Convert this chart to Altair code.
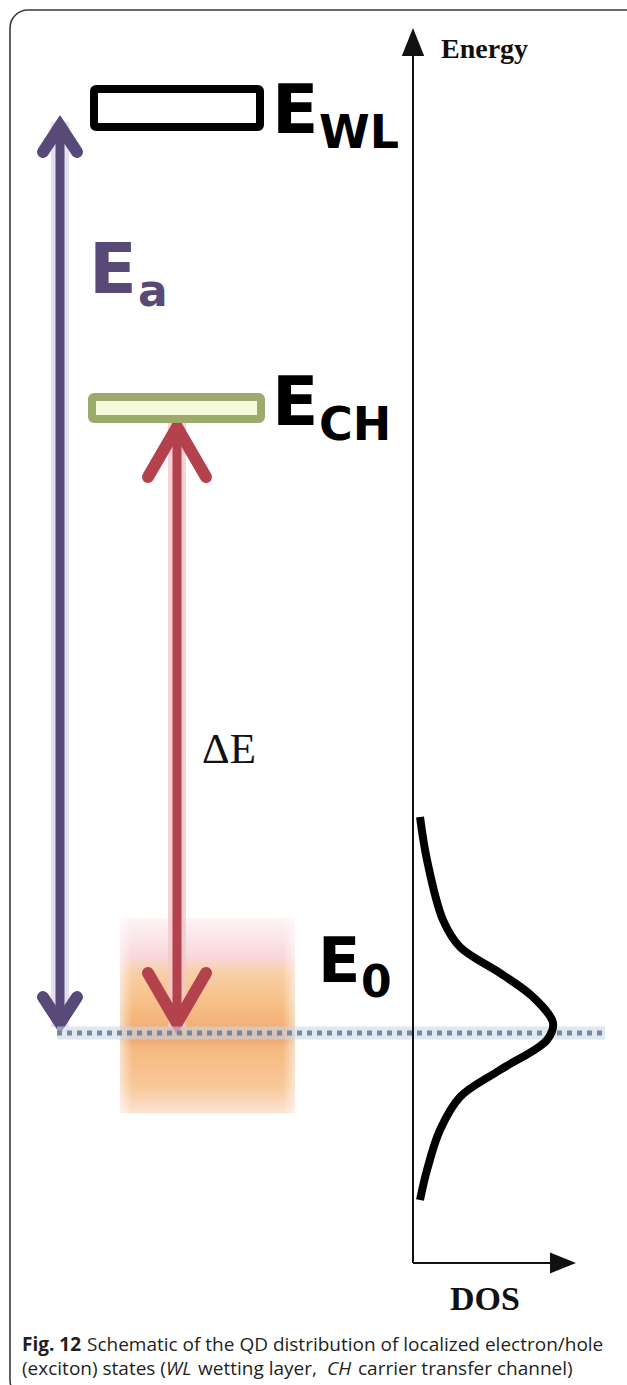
import altair as alt
import pandas as pd

W, H = 627, 1385

# ---- energy-level boxes (left, right, top, bottom) ----
level_names = ["WL", "CH"]
level_x = [94, 92]
level_x2 = [260, 261]
level_y = [89, 397]
level_y2 = [127, 419]
level_stroke = ["#000000", "#9caa6c"]
level_fill = ["#ffffff", "#f6f9dc"]

# ---- vertical arrows: shaft x, top tip, bottom tip ----
arrow_names = ["Ea", "dE"]
arrow_x = [60, 177]
arrow_top = [122, 423]
arrow_bottom = [1027, 1027]
arrow_color = ["#584a78", "#b3424c"]
arrow_glow = ["#ddd6ea", "#f6c6c9"]
arrow_head_half = [17, 29]
arrow_head_len = [30, 54]

# ---- QD ensemble (gradient block) ----
qd_x, qd_x2, qd_y, qd_y2 = 120, 295, 918, 1113

# ---- ground-state level (dotted) ----
e0_y = 1033
e0_x0, e0_x1 = 57, 605

# ---- DOS axes ----
axis_x = 413
axis_top = 28
axis_corner = 1263
axis_right = 576

# ---- DOS profile (x = DOS, y = energy position) ----
dos_x = [420, 427, 443, 460, 500, 533, 553, 547, 500, 460, 440, 427, 420]
dos_y = [817, 860, 920, 947, 973, 997, 1023, 1040, 1070, 1097, 1130, 1170, 1200]

# ---- caption ----
cap_bold = ["Fig. 12"]
cap_bold_x = [22]
cap_bold_y = [1351]
cap_plain = ["Schematic of the QD distribution of localized electron/hole",
             "(exciton) states (", "wetting layer,", "carrier transfer channel)"]
cap_plain_x = [87, 22, 198, 358]
cap_plain_y = [1351, 1375, 1375, 1375]
cap_ital = ["WL", "CH"]
cap_ital_x = [166, 327]
cap_ital_y = [1375, 1375]

X = lambda f="x": alt.X(f"{f}:Q", scale=alt.Scale(domain=[0, W], nice=False, zero=False), axis=None)
Y = lambda f="y": alt.Y(f"{f}:Q", scale=alt.Scale(domain=[0, H], nice=False, zero=False, reverse=True), axis=None)

layers = []

# outer rounded frame (runs off the right and bottom edges)
frame = pd.DataFrame({"x": [10], "x2": [720], "y": [10], "y2": [1398]})
layers.append(alt.Chart(frame).mark_rect(fill=None, stroke="#3a3a3a", strokeWidth=1.6,
                                          cornerRadius=18, clip=True).encode(
    x=X(), x2="x2:Q", y=Y(), y2="y2:Q"))

# QD ensemble block: vertical colour gradient, softened at the sides
qd = pd.DataFrame({"x": [qd_x], "x2": [qd_x2], "y": [qd_y], "y2": [qd_y2]})
vgrad = alt.Gradient(gradient="linear", x1=0, x2=0, y1=0, y2=1, stops=[
    alt.GradientStop(color="#fdf4f4", offset=0.0),
    alt.GradientStop(color="#fbe6e8", offset=0.1),
    alt.GradientStop(color="#f9d7da", offset=0.2),
    alt.GradientStop(color="#f8cfa6", offset=0.28),
    alt.GradientStop(color="#f7c28a", offset=0.42),
    alt.GradientStop(color="#f3b076", offset=0.55),
    alt.GradientStop(color="#e6a070", offset=0.6),
    alt.GradientStop(color="#f6b97f", offset=0.67),
    alt.GradientStop(color="#f8c898", offset=0.86),
    alt.GradientStop(color="#fbe3d3", offset=1.0),
])
layers.append(alt.Chart(qd).mark_rect(fill=vgrad).encode(x=X(), x2="x2:Q", y=Y(), y2="y2:Q"))
hgrad = alt.Gradient(gradient="linear", x1=0, x2=1, y1=0, y2=0, stops=[
    alt.GradientStop(color="rgba(255,255,255,0.55)", offset=0.0),
    alt.GradientStop(color="rgba(255,255,255,0)", offset=0.07),
    alt.GradientStop(color="rgba(255,255,255,0)", offset=0.93),
    alt.GradientStop(color="rgba(255,255,255,0.55)", offset=1.0),
])
layers.append(alt.Chart(qd).mark_rect(fill=hgrad).encode(x=X(), x2="x2:Q", y=Y(), y2="y2:Q"))

# arrows: glow, shaft, chevron heads
arr = pd.DataFrame({"name": arrow_names, "x": arrow_x, "y": arrow_top, "y2": arrow_bottom,
                    "c": arrow_color, "g": arrow_glow})
layers.append(alt.Chart(arr).mark_rule(strokeWidth=18, opacity=0.8).encode(
    x=X(), y=Y(), y2="y2:Q", color=alt.Color("g:N", scale=None)))

heads = []
for n, xc, t, b, c, hw, hl in zip(arrow_names, arrow_x, arrow_top, arrow_bottom,
                                   arrow_color, arrow_head_half, arrow_head_len):
    heads += [
        {"id": n + "_top", "k": 0, "x": xc - hw, "y": t + hl, "c": c},
        {"id": n + "_top", "k": 1, "x": xc, "y": t + 4, "c": c},
        {"id": n + "_top", "k": 2, "x": xc + hw, "y": t + hl, "c": c},
        {"id": n + "_bot", "k": 0, "x": xc - hw, "y": b - hl, "c": c},
        {"id": n + "_bot", "k": 1, "x": xc, "y": b - 4, "c": c},
        {"id": n + "_bot", "k": 2, "x": xc + hw, "y": b - hl, "c": c},
    ]
heads = pd.DataFrame(heads)
layers.append(alt.Chart(arr).mark_rule(strokeWidth=9).encode(
    x=X(), y=Y(), y2="y2:Q", color=alt.Color("c:N", scale=None)))
layers.append(alt.Chart(heads).mark_line(strokeWidth=12, strokeCap="round", strokeJoin="miter").encode(
    x=X(), y=Y(), detail="id:N", order="k:Q", color=alt.Color("c:N", scale=None)))

# energy-level boxes
lv = pd.DataFrame({"name": level_names, "x": level_x, "x2": level_x2, "y": level_y, "y2": level_y2,
                   "s": level_stroke, "f": level_fill})
layers.append(alt.Chart(lv).mark_rect(strokeWidth=8, cornerRadius=2).encode(
    x=X(), x2="x2:Q", y=Y(), y2="y2:Q",
    fill=alt.Fill("f:N", scale=None), stroke=alt.Stroke("s:N", scale=None)))

# dotted E0 line with a pale halo
e0 = pd.DataFrame({"x": [e0_x0], "x2": [e0_x1], "y": [e0_y]})
layers.append(alt.Chart(e0).mark_rule(strokeWidth=13, color="#c9d7e6", opacity=0.6).encode(
    x=X(), x2="x2:Q", y=Y()))
layers.append(alt.Chart(e0).mark_rule(strokeWidth=5, color="#75839a", strokeDash=[5, 5], opacity=0.95).encode(
    x=X(), x2="x2:Q", y=Y()))

# DOS axes
ax = pd.DataFrame({"x": [axis_x, axis_x], "x2": [axis_x, axis_right - 20],
                   "y": [axis_top + 20, axis_corner], "y2": [axis_corner, axis_corner]})
layers.append(alt.Chart(ax).mark_rule(strokeWidth=2, color="#111111").encode(
    x=X(), x2="x2:Q", y=Y(), y2="y2:Q"))
tri_up = pd.DataFrame({"x": [axis_x], "y": [axis_top + 14]})
layers.append(alt.Chart(tri_up).mark_point(shape="M0,-1L0.8,1L-0.8,1Z", filled=True, size=28 * 28,
                                           color="#111111", opacity=1).encode(x=X(), y=Y()))
tri_rt = pd.DataFrame({"x": [axis_right - 13], "y": [axis_corner]})
layers.append(alt.Chart(tri_rt).mark_point(shape="M1,0L-1,0.8L-1,-0.8Z", filled=True, size=26 * 26,
                                           color="#111111", opacity=1).encode(x=X(), y=Y()))

# DOS profile
dos = pd.DataFrame({"x": dos_x, "y": dos_y, "k": list(range(len(dos_x)))})
layers.append(alt.Chart(dos).mark_line(strokeWidth=8, color="#000000", interpolate="catmull-rom").encode(
    x=X(), y=Y(), order="k:Q"))

# level labels (big E + subscript)
def label(texts, xs, ys, size, color, font="DejaVu Sans", weight="bold"):
    d = pd.DataFrame({"t": texts, "x": xs, "y": ys})
    return alt.Chart(d).mark_text(align="left", baseline="alphabetic", font=font, fontSize=size,
                                  fontWeight=weight, color=color).encode(x=X(), y=Y(), text="t:N")

layers.append(label(["E", "E"], [272, 272], [133, 425], 68, "#000000"))
layers.append(label(["E"], [318], [982], 62, "#000000"))
layers.append(label(["WL", "CH"], [319, 319], [148, 440], 46, "#000000"))
layers.append(label(["0"], [361], [997], 44, "#000000"))
layers.append(label(["E"], [89], [293], 70, "#574a76"))
layers.append(label(["a"], [138], [306], 44, "#574a76"))
layers.append(label(["ΔE"], [202], [763], 43, "#111111", font="Liberation Serif", weight="normal"))
layers.append(label(["Energy"], [441], [58], 28, "#111111", font="Liberation Serif"))
layers.append(label(["DOS"], [450], [1310], 34, "#111111", font="Liberation Serif"))

# caption
layers.append(label(cap_bold, cap_bold_x, cap_bold_y, 19, "#231f20", font="Open Sans"))
layers.append(label(cap_plain, cap_plain_x, cap_plain_y, 19, "#231f20", font="Open Sans", weight="normal"))
cap_i = pd.DataFrame({"t": cap_ital, "x": cap_ital_x, "y": cap_ital_y})
layers.append(alt.Chart(cap_i).mark_text(align="left", baseline="alphabetic", font="Open Sans", fontSize=19,
                                         fontStyle="italic", color="#231f20").encode(x=X(), y=Y(), text="t:N"))

chart = alt.layer(*layers).properties(width=W, height=H, padding=0, autosize="none",
                                      background="#ffffff").configure_view(stroke=None)

chart.save("out.html", embed_options={"renderer": "svg", "actions": False})
